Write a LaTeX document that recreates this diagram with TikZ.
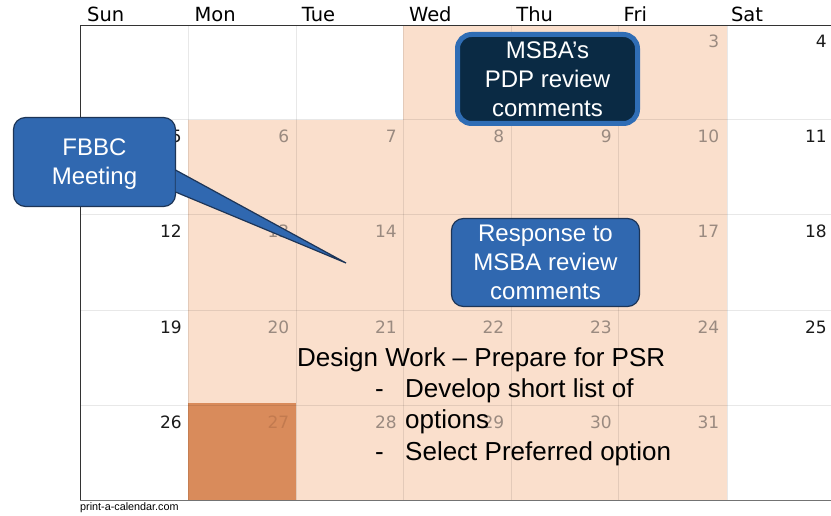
\documentclass[tikz,border=0pt]{standalone}
\usepackage{fontspec}
\usepackage{tikz}
\usetikzlibrary{calc}
\newfontfamily\calfont{DejaVu Sans}
\newfontfamily\boxfont{Liberation Sans}
\definecolor{peach}{HTML}{FADFCC}
\definecolor{pumpkin}{HTML}{D98B5B}
\definecolor{numorange}{HTML}{C27A4F}
\definecolor{daygray}{HTML}{9A8A80}
\definecolor{dayblack}{HTML}{1A1A1A}
\definecolor{boxblue}{HTML}{3068B0}
\definecolor{navy}{HTML}{0A2A44}
\definecolor{edgeblue}{HTML}{2F6DB5}
\definecolor{edgenavy}{HTML}{1D3557}

\begin{document}
\begin{tikzpicture}[x=1pt,y=-1pt,
   gridline/.style={black,opacity=0.09,line width=1pt},
   dayhead/.style={anchor=base west,inner sep=0pt,font=\calfont\fontsize{19.5}{22}\selectfont},
   daynum/.style={anchor=base east,inner sep=0pt,font=\calfont\fontsize{17}{20}\selectfont},
   bluebox/.style={draw=edgenavy,line width=1.2pt,fill=boxblue,rounded corners=12pt,text=white,
      align=center,inner sep=0pt,font=\boxfont\fontsize{24}{29}\selectfont},
   darkbox/.style={bluebox,draw=edgeblue,line width=5pt,fill=navy,rounded corners=14pt},
   worktext/.style={anchor=base west,inner sep=0pt,font=\boxfont\fontsize{26}{28}\selectfont}]

  \fill[white] (0,0) rectangle (831,516);
  \useasboundingbox (0,0) rectangle (831,516);

  % shaded weeks
  \fill[peach] (403,25) rectangle (727,120);
  \fill[peach] (188,120) rectangle (727,500);
  \fill[pumpkin] (188,403) rectangle (296,500);

  % grid
  \foreach \x in {188,296,403,511,618,727}
     \draw[gridline] (\x,25) -- (\x,500);
  \foreach \y in {120,215,310,405}
     \draw[gridline] (80,\y) -- (831,\y);
  \draw[gridline] (831,25) -- (831,500);
  \draw[black!80] (80,500) -- (80,25) -- (831,25);
  \draw[black!55] (80,500) -- (831,500);

  % day names
  \foreach \n [count=\i from 0] in {Sun,Mon,Tue,Wed,Thu,Fri,Sat}
     \draw (87+107.3*\i,22) node[dayhead] (h\n) {\n};

  % day numbers
  \foreach \d in {1,...,31}{
     \pgfmathtruncatemacro{\c}{mod(\d+2,7)}
     \pgfmathtruncatemacro{\r}{(\d+2)/7}
     \def\numcol{daygray}
     \ifnum\c=0 \def\numcol{dayblack}\fi
     \ifnum\c=6 \def\numcol{dayblack}\fi
     \ifnum\d=27 \def\numcol{numorange}\fi
     \draw (182+107.5*\c,48+95*\r) node[daynum,text=\numcol] (d\d) {\d};
  }

  % task text
  \draw (297,366) node[worktext] (dwhead) {Design Work – Prepare for PSR};
  \draw (375,397) node[worktext] (dashone) {-};
  \draw (405,397) node[worktext] (dwdevelop) {Develop short list of};
  \draw (405,428) node[worktext] (dwoptions) {options};
  \draw (375,460) node[worktext] (dashtwo) {-};
  \draw (405,460) node[worktext] (dwselect) {Select Preferred option};

  % boxes
  \draw (547.5,79) node[darkbox,minimum width=180pt,minimum height=89pt] (pdp) {MSBA’s\\PDP review\\comments};
  \draw (545.5,262.5) node[bluebox,minimum width=188pt,minimum height=88pt] (resp) {Response to\\MSBA review\\comments};
  \draw (94.5,162) node[bluebox,minimum width=162pt,minimum height=89pt] (fbbc) {\rule{0pt}{21pt}FBBC\\Meeting};
  \coordinate (fbtip) at (346,263);
  \fill[boxblue,draw=edgenavy,line width=1.2pt] ($(fbbc.east)+(-0.6,8)$) -- (fbtip) -- ($(fbbc.east)+(-0.6,30)$);

  \draw (80,510) node[anchor=base west,inner sep=0pt,font=\boxfont\fontsize{10.8}{12}\selectfont] (footer) {print-a-calendar.com};
\end{tikzpicture}
\end{document}
